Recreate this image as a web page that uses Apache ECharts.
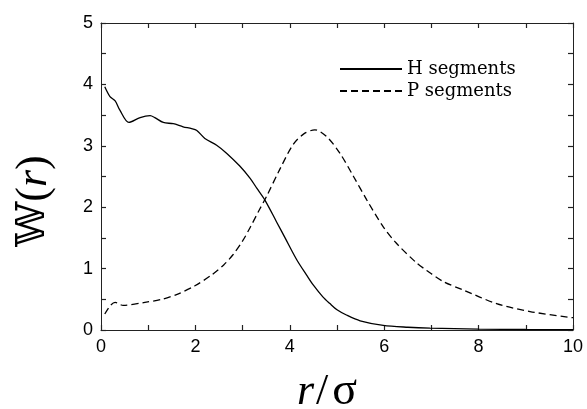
<!DOCTYPE html>
<html>
<head>
<meta charset="utf-8">
<script src="https://cdn.jsdelivr.net/npm/echarts@6/dist/echarts.min.js"></script>
<style>
html,body{margin:0;padding:0;background:#fff;}
#chart{width:587px;height:409px;}
</style>
</head>
<body>
<div id="chart"></div>
<script>
var seriesNames = ['H segments', 'P segments'];
var hX = [0.08,0.19,0.30,0.40,0.59,0.83,1.04,1.14,1.32,1.53,1.74,1.92,2.03,2.20,2.45,2.66,2.94,3.16,3.30,3.47,3.72,3.90,4.15,4.36,4.50,4.70,4.85,5.00,5.21,5.49,5.98,6.50,6.97,8.00,9.00,10.0];
var hY = [3.96,3.80,3.73,3.58,3.38,3.46,3.49,3.46,3.38,3.36,3.31,3.28,3.25,3.12,3.01,2.88,2.67,2.47,2.31,2.12,1.76,1.50,1.14,0.89,0.73,0.54,0.43,0.33,0.24,0.15,0.075,0.045,0.03,0.015,0.008,0.005];
var pX = [0.08,0.20,0.30,0.47,0.93,1.29,1.64,1.99,2.35,2.60,2.80,3.00,3.16,3.35,3.51,3.79,4.07,4.29,4.53,4.78,5.06,5.35,5.63,5.98,6.25,6.69,6.90,7.25,7.68,8.38,9.09,10.0];
var pY = [0.26,0.40,0.45,0.40,0.45,0.50,0.59,0.72,0.90,1.06,1.23,1.45,1.67,1.95,2.18,2.62,3.02,3.19,3.26,3.15,2.88,2.50,2.12,1.68,1.42,1.09,0.97,0.79,0.65,0.43,0.30,0.20];
var xTicks = [0, 2, 4, 6, 8, 10];
var yTicks = [0, 1, 2, 3, 4, 5];

function pairs(xs, ys) { return xs.map(function (x, i) { return [x, ys[i]]; }); }

var axisCol = '#222';
function axisParts() {
  return {
    axisLine: {show: true, onZero: false, lineStyle: {color: axisCol, width: 1}},
    axisTick: {show: true, inside: true, length: 5, lineStyle: {color: axisCol, width: 1.2}},
    splitLine: {show: false}
  };
}
function labelStyle(ticks) {
  return {show: true, margin: 8, color: '#000', fontFamily: 'Liberation Sans', fontSize: 18,
    formatter: function (v) { return ticks.indexOf(v) >= 0 ? String(v) : ''; }};
}
var xb = Object.assign({type: 'value', min: 0, max: 10, interval: 1, position: 'bottom', axisLabel: labelStyle(xTicks)}, axisParts());
var xt = Object.assign({type: 'value', min: 0, max: 10, interval: 1, position: 'top', axisLabel: {show: false}}, axisParts());
var yl = Object.assign({type: 'value', min: 0, max: 5, interval: 0.5, position: 'left', axisLabel: labelStyle(yTicks)}, axisParts());
var yr = Object.assign({type: 'value', min: 0, max: 5, interval: 0.5, position: 'right', axisLabel: {show: false}}, axisParts());

var chart = echarts.init(document.getElementById('chart'), null, {renderer: 'canvas'});
chart.setOption({
  animation: false,
  backgroundColor: '#fff',
  grid: {left: 101, right: 14, top: 23, bottom: 79, containLabel: false},
  legend: {
    orient: 'vertical', left: 334, top: 55, itemWidth: 62, itemHeight: 14, itemGap: 4,
    itemStyle: {opacity: 0},
    textStyle: {fontFamily: 'DejaVu Serif', fontSize: 18, color: '#000'},
    data: seriesNames
  },
  xAxis: [xb, xt],
  yAxis: [yl, yr],
  graphic: [
    {type: 'text', x: 34, y: 201, rotation: Math.PI / 2,
      style: {rich: {w: {fontFamily: 'DejaVu Serif', fontSize: 40, fill: '#000'},
                     p: {fontFamily: 'Liberation Serif', fontSize: 44, fill: '#000'},
                     i: {fontFamily: 'Liberation Serif', fontStyle: 'italic', fontSize: 44, fill: '#000'}},
        text: '{w|𝕎}{p|(}{i|r}{p|)}', align: 'center', verticalAlign: 'middle'}},
    {type: 'text', x: 327, y: 392,
      style: {rich: {i: {fontFamily: 'Liberation Serif', fontStyle: 'italic', fontSize: 44, fill: '#000', padding: [0, 2, 0, 0]},
                     s: {fontFamily: 'Liberation Serif', fontSize: 44, fill: '#000', padding: [0, 4, 0, 0]},
                     p: {fontFamily: 'Liberation Serif', fontSize: 46, fill: '#000'}},
        text: '{i|r}{s|/}{p|σ}', align: 'center', verticalAlign: 'middle'}}
  ],
  series: [
    {name: seriesNames[0], type: 'line', data: pairs(hX, hY), symbol: 'none', smooth: 0.3,
      lineStyle: {color: '#000', width: 1.3, type: 'solid'}, itemStyle: {color: '#000'}},
    {name: seriesNames[1], type: 'line', data: pairs(pX, pY), symbol: 'none', smooth: 0.3,
      lineStyle: {color: '#000', width: 1.3, type: [7, 4]}, itemStyle: {color: '#000'}}
  ]
});
</script>
</body>
</html>
